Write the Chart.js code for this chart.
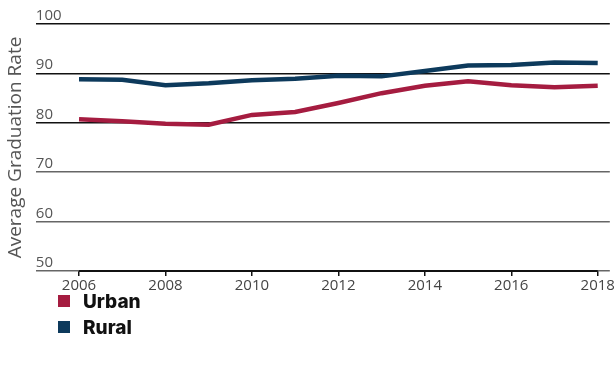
<!DOCTYPE html>
<html>
<head>
<meta charset="utf-8">
<script src="https://cdn.jsdelivr.net/npm/chart.js@4/dist/chart.umd.min.js"></script>
<style>
  html, body { margin: 0; padding: 0; background: #fff; }
  #wrap { position: relative; width: 616px; height: 366px; }
  #box { position: absolute; left: 0; top: 0; width: 616px; height: 296px; }
  #legend { position: absolute; left: 58px; top: 288px; font-family: Inter, Roboto, sans-serif; }
  .item { display: flex; align-items: center; height: 26px; font-weight: 800; font-size: 19px; color: #111; }
  .sw { width: 12px; height: 12px; margin-right: 13px; }
</style>
</head>
<body>
<div id="wrap">
  <div id="box"><canvas id="c"></canvas></div>
  <div id="legend"></div>
</div>
<script>
// years on the x axis
const years = [2006, 2007, 2008, 2009, 2010, 2011, 2012, 2013, 2014, 2015, 2016, 2017, 2018];
const xTicks = [2006, 2008, 2010, 2012, 2014, 2016, 2018];
const yTicks = [50, 60, 70, 80, 90, 100];

// average graduation rate
const urban = [80.7, 80.3, 79.8, 79.6, 81.6, 82.2, 84.0, 86.0, 87.5, 88.4, 87.6, 87.2, 87.5];
const rural = [88.8, 88.7, 87.6, 88.0, 88.6, 88.9, 89.5, 89.4, 90.5, 91.6, 91.7, 92.2, 92.1];

const seriesNames = ['Urban', 'Rural'];
const seriesColors = ['#a51c40', '#0d3a5c'];

const FONT = '"Open Sans", Lato, sans-serif';

// black base line running only between the first and last year
const baseLine = {
  id: 'baseLine',
  afterDatasetsDraw(chart) {
    const x = chart.scales.x, y = chart.scales.y;
    const ctx = chart.ctx;
    ctx.save();
    ctx.strokeStyle = '#111';
    ctx.lineWidth = 2;
    ctx.beginPath();
    ctx.moveTo(x.getPixelForValue(xTicks[0]), y.getPixelForValue(50));
    ctx.lineTo(x.getPixelForValue(xTicks[xTicks.length - 1]), y.getPixelForValue(50));
    ctx.stroke();
    ctx.restore();
  }
};

const datasets = [urban, rural].map((vals, i) => ({
  label: seriesNames[i],
  data: years.map((yr, k) => ({ x: yr, y: vals[k] })),
  borderColor: seriesColors[i],
  backgroundColor: seriesColors[i],
  borderWidth: 4.5,
  pointRadius: 0,
  tension: 0,
  fill: false
}));

new Chart(document.getElementById('c'), {
  type: 'line',
  data: { datasets },
  plugins: [baseLine],
  options: {
    responsive: true,
    maintainAspectRatio: false,
    animation: false,
    layout: { padding: { left: 4, right: 6, top: 24, bottom: 0 } },
    plugins: { legend: { display: false }, tooltip: { enabled: false } },
    scales: {
      x: {
        type: 'linear',
        min: 2005,
        max: 2018.28,
        afterBuildTicks: (s) => { s.ticks = xTicks.map(v => ({ value: v })); },
        border: { display: false },
        grid: { drawOnChartArea: false, drawTicks: true, tickLength: 5, color: '#111', lineWidth: 1.5 },
        ticks: { color: '#444', font: { family: FONT, size: 15 }, padding: 1, maxRotation: 0,
                 callback: (v) => String(v) }
      },
      y: {
        min: 50,
        max: 100,
        afterBuildTicks: (s) => { s.ticks = yTicks.map(v => ({ value: v })); },
        border: { display: false },
        grid: {
          drawTicks: false,
          lineWidth: 1.5,
          color: (c) => (c.tick && c.tick.value >= 80 ? '#111' : '#666')
        },
        ticks: {
          mirror: true,
          padding: 0,
          color: '#555',
          font: { family: FONT, size: 15, lineHeight: 1.1 },
          callback: (v) => [String(v), '']
        },
        title: {
          display: true,
          text: 'Average Graduation Rate',
          color: '#555',
          font: { family: FONT, size: 19 },
          padding: { top: 0, bottom: 9 }
        }
      }
    }
  }
});

// legend built from the chart's series
const lg = document.getElementById('legend');
seriesNames.forEach((name, i) => {
  const row = document.createElement('div');
  row.className = 'item';
  const sw = document.createElement('span');
  sw.className = 'sw';
  sw.style.background = seriesColors[i];
  row.appendChild(sw);
  row.appendChild(document.createTextNode(name));
  lg.appendChild(row);
});
</script>
</body>
</html>
